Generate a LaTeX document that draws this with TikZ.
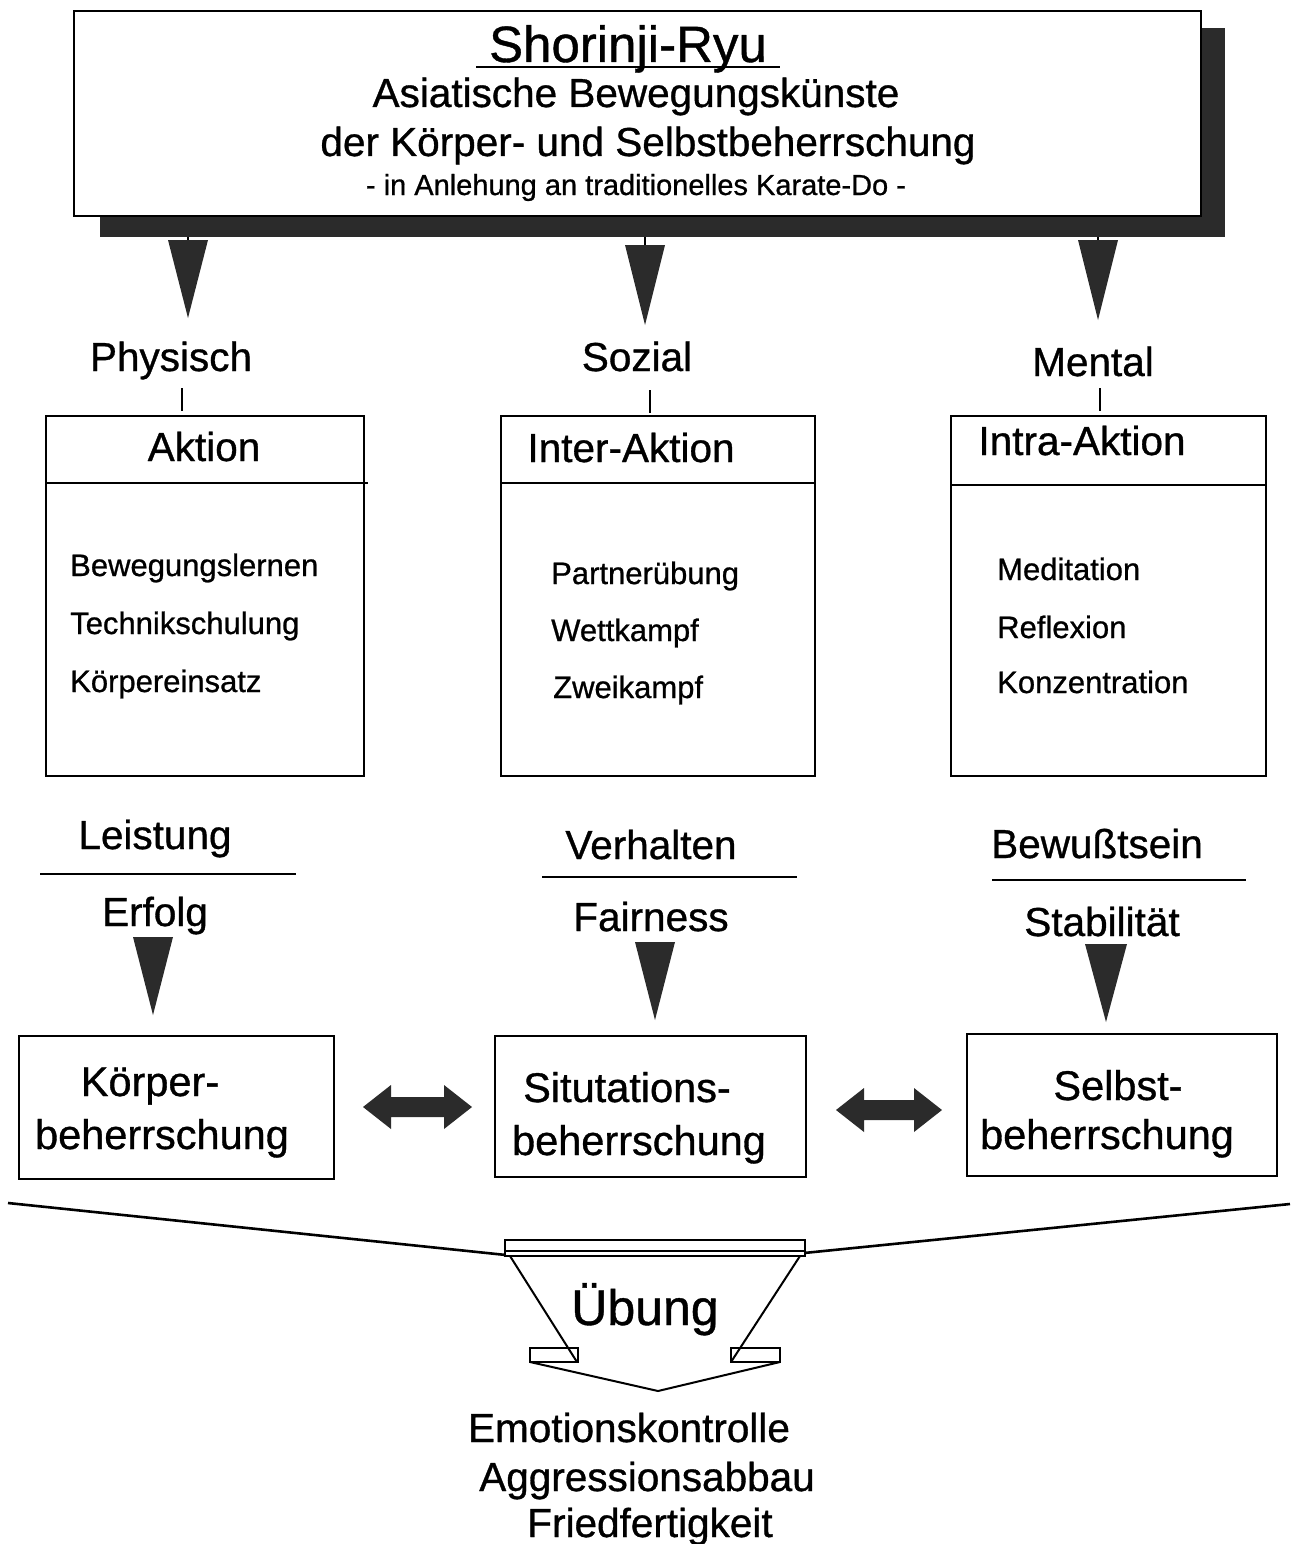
\documentclass[tikz,border=0pt]{standalone}
\usepackage{fontspec}
\setmainfont{Liberation Sans}[BoldFont={Liberation Sans},BoldFeatures={FakeBold=0.8}]
\definecolor{dark}{gray}{0.17}
\begin{document}
\begin{tikzpicture}[x=1pt,y=-1pt,line join=miter,
  box/.style={draw,line width=2.2pt,inner sep=0pt},
  rule/.style={line width=2pt},
  lab/.style={font=\fontsize{40.5}{44}\selectfont\bfseries,inner sep=0pt,anchor=base},
  big/.style={font=\fontsize{41.5}{46}\selectfont\bfseries,inner sep=0pt,anchor=base},
  itm/.style={font=\fontsize{31}{34}\selectfont\bfseries,inner sep=0pt,anchor=base west},
  tri/.style={fill=dark},
  thin/.style={line width=1.6pt}]
\useasboundingbox (0,0) rectangle (1293,1544);
\fill[white] (0,0) rectangle (1293,1544);

% ---------- top box with shadow ----------
\fill[dark] (100,28) rectangle (1225,237);
\node[box,fill=white,anchor=north west,minimum width=1127pt,minimum height=205pt] (top) at (73,10) {};
\node[font=\fontsize{51}{56}\selectfont\bfseries,inner sep=0pt,anchor=base] (title) at (628,62) {Shorinji-Ryu};
\draw[rule] (476,67) -- (780,67);
\node[lab] (sub1) at (636,107) {Asiatische Bewegungskünste};
\node[lab] (sub2) at (648,156) {der Körper- und Selbstbeherrschung};
\node[font=\fontsize{29}{32}\selectfont\bfseries,inner sep=0pt,anchor=base] (sub3) at (636,195) {- in Anlehung an traditionelles Karate-Do -};

% ---------- triangles from top box ----------
\draw[thin] (188,237) -- (188,242);
\draw[thin] (645,237) -- (645,246);
\draw[thin] (1098,237) -- (1098,242);
\fill[tri] (168,240) -- (208,240) -- (188,318) -- cycle;
\fill[tri] (625,245) -- (665,245) -- (645,325) -- cycle;
\fill[tri] (1078,240) -- (1118,240) -- (1098,320) -- cycle;

% ---------- category labels ----------
\node[lab] (phys) at (171,371) {Physisch};
\node[lab] (soz)  at (637,371) {Sozial};
\node[lab] (ment) at (1093,376) {Mental};
\draw[thin] (182,388) -- (182,411);
\draw[thin] (650,390) -- (650,413);
\draw[thin] (1100,388) -- (1100,411);

% ---------- three column boxes ----------
\node[box,anchor=north west,minimum width=318pt,minimum height=360pt] (boxA) at (45,415) {};
\draw[rule] (45,483) -- (368,483);
\node[lab] (hA) at (204,461) {Aktion};
\node[itm] (a1) at (70,576) {Bewegungslernen};
\node[itm] (a2) at (70,634) {Technikschulung};
\node[itm] (a3) at (70,692) {Körpereinsatz};

\node[box,anchor=north west,minimum width=314pt,minimum height=360pt] (boxB) at (500,415) {};
\draw[rule] (500,483) -- (814,483);
\node[lab] (hB) at (631,462) {Inter-Aktion};
\node[itm] (b1) at (551,584) {Partnerübung};
\node[itm] (b2) at (551,641) {Wettkampf};
\node[itm] (b3) at (553,698) {Zweikampf};

\node[box,anchor=north west,minimum width=315pt,minimum height=360pt] (boxC) at (950,415) {};
\draw[rule] (950,485) -- (1265,485);
\node[lab] (hC) at (1082,455) {Intra-Aktion};
\node[itm] (c1) at (997,580) {Meditation};
\node[itm] (c2) at (997,638) {Reflexion};
\node[itm] (c3) at (997,693) {Konzentration};

% ---------- fractions ----------
\node[lab] (f1) at (155,849) {Leistung};
\draw[rule] (40,874) -- (296,874);
\node[lab] (g1) at (155,926) {Erfolg};
\node[lab] (f2) at (651,859) {Verhalten};
\draw[rule] (542,877) -- (797,877);
\node[lab] (g2) at (651,931) {Fairness};
\node[lab] (f3) at (1097,858) {Bewußtsein};
\draw[rule] (992,880) -- (1246,880);
\node[lab] (g3) at (1102,936) {Stabilität};

\fill[tri] (133,937) -- (173,937) -- (153,1015) -- cycle;
\fill[tri] (635,942) -- (675,942) -- (655,1020) -- cycle;
\fill[tri] (1085,944) -- (1127,944) -- (1106,1022) -- cycle;

% ---------- bottom boxes ----------
\node[box,anchor=north west,minimum width=315pt,minimum height=143pt] (kb) at (18,1035) {};
\node[big] (kb1) at (150,1096) {Körper-};
\node[big] (kb2) at (162,1149) {beherrschung};
\node[box,anchor=north west,minimum width=311pt,minimum height=141pt] (sb) at (494,1035) {};
\node[big] (sb1) at (627,1102) {Situtations-};
\node[big] (sb2) at (639,1155) {beherrschung};
\node[box,anchor=north west,minimum width=310pt,minimum height=142pt] (selb) at (966,1033) {};
\node[big] (se1) at (1118,1100) {Selbst-};
\node[big] (se2) at (1107,1149) {beherrschung};

% double arrows
\fill[dark] (363,1107) -- (391,1085) -- (391,1097) -- (444,1097) -- (444,1085) -- (472,1107)
  -- (444,1129) -- (444,1117) -- (391,1117) -- (391,1129) -- cycle;
\fill[dark] (836,1110) -- (864,1088) -- (864,1100) -- (914,1100) -- (914,1088) -- (942,1110)
  -- (914,1132) -- (914,1120) -- (864,1120) -- (864,1132) -- cycle;

% ---------- funnel ----------
\draw[line width=2.6pt] (8,1203) -- (506,1255);
\draw[line width=2.6pt] (804,1253) -- (1290,1204);
\draw[rule,fill=white] (505,1240) rectangle (805,1256);
\draw[thin] (506,1251) -- (804,1251);
\draw[rule] (510,1256) -- (577,1362);
\draw[rule] (800,1256) -- (731,1362);
\draw[rule] (530,1348) rectangle (578,1362);
\draw[rule] (731,1348) rectangle (780,1362);
\draw[rule] (530,1362) -- (658,1391) -- (780,1362);
\node[font=\fontsize{50}{55}\selectfont\bfseries,inner sep=0pt,anchor=base] (ueb) at (645,1325) {Übung};

\node[lab] (e1) at (629,1442) {Emotionskontrolle};
\node[lab] (e2) at (647,1491) {Aggressionsabbau};
\node[lab] (e3) at (650,1537) {Friedfertigkeit};
\end{tikzpicture}
\end{document}
